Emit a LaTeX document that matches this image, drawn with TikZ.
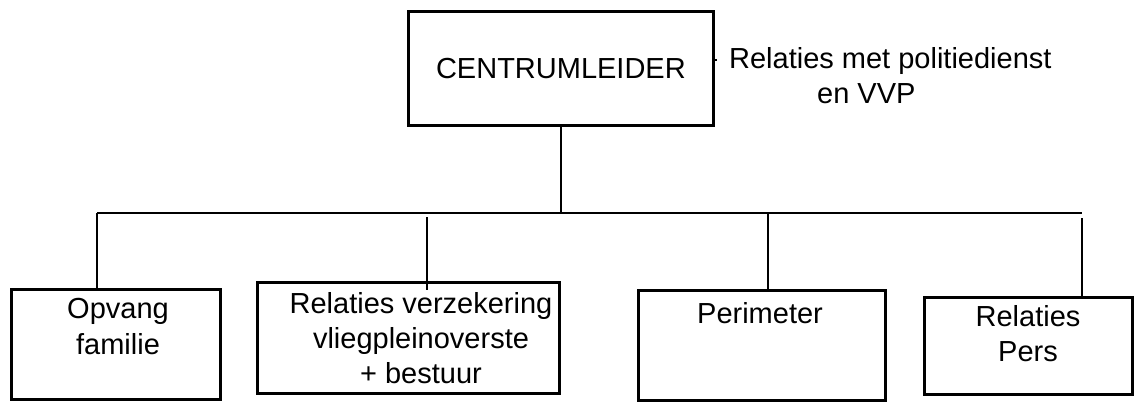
\documentclass[tikz,border=0pt]{standalone}
\usepackage{fontspec}
\setmainfont{Liberation Sans}
\usetikzlibrary{positioning}

\begin{document}
\begin{tikzpicture}[vak/.style = {draw, line width=1.6pt, anchor=north west, inner sep=0pt},
	tekst/.style = {align=center, inner sep=0pt, font=\fontsize{16.5}{20}\selectfont},
	lijn/.style = {line width=1.6pt}]
	\useasboundingbox (0,0) rectangle (22.7,8.02);
	
	% bovenste vak
	\node [vak, tekst, minimum width=6.1cm, minimum height=2.28cm] (leider) at (8.14,7.82) {CENTRUMLEIDER};
	\node [tekst, align=left, right=0.28cm of leider, yshift=-0.15cm] (politie)
	{Relaties met politiedienst\\\hspace*{1.76cm}en VVP};
	\coordinate (haak) at (14.34,6.82);
	\draw [lijn] (leider.east |- haak) -- (haak);
	
	% onderste vakken
	\node [vak, minimum width=4.18cm, minimum height=2.2cm] (opvang) at (0.2,2.26) {};
	\node [vak, minimum width=6.04cm, minimum height=2.22cm] (verzek) at (5.12,2.40) {};
	\node [vak, minimum width=4.94cm, minimum height=2.2cm] (perim) at (12.74,2.24) {};
	\node [vak, minimum width=4.16cm, minimum height=1.94cm] (pers) at (18.46,2.10) {};
	
	\node [tekst] (opvangtxt) at (2.36,1.49) {Opvang\\familie};
	\node [tekst] (verzektxt) at (8.42,1.26) {Relaties verzekering\\vliegpleinoverste\\+ bestuur};
	\node [tekst] (perimtxt) at (15.2,1.76) {Perimeter};
	\node [tekst] (perstxt) at (20.56,1.35) {Relaties\\Pers};
	
	% verbindingen
	\coordinate (busL) at (1.94,3.76);
	\coordinate (busR) at (21.64,3.76);
	\coordinate (tak2) at (8.54,3.68);
	\coordinate (tak3) at (15.36,3.76);
	\coordinate (tak4) at (21.64,3.66);
	
	\draw [lijn] (leider.south) -- (leider.south |- busL);
	\draw [lijn] (busL) -- (busR);
	\draw [lijn] (busL) -- (busL |- opvang.north);
	\draw [lijn] (tak2) --++ (0,-1.46);
	\draw [lijn] (tak3) -- (tak3 |- perim.north);
	\draw [lijn] (tak4) -- (tak4 |- pers.north);
\end{tikzpicture}
\end{document}
